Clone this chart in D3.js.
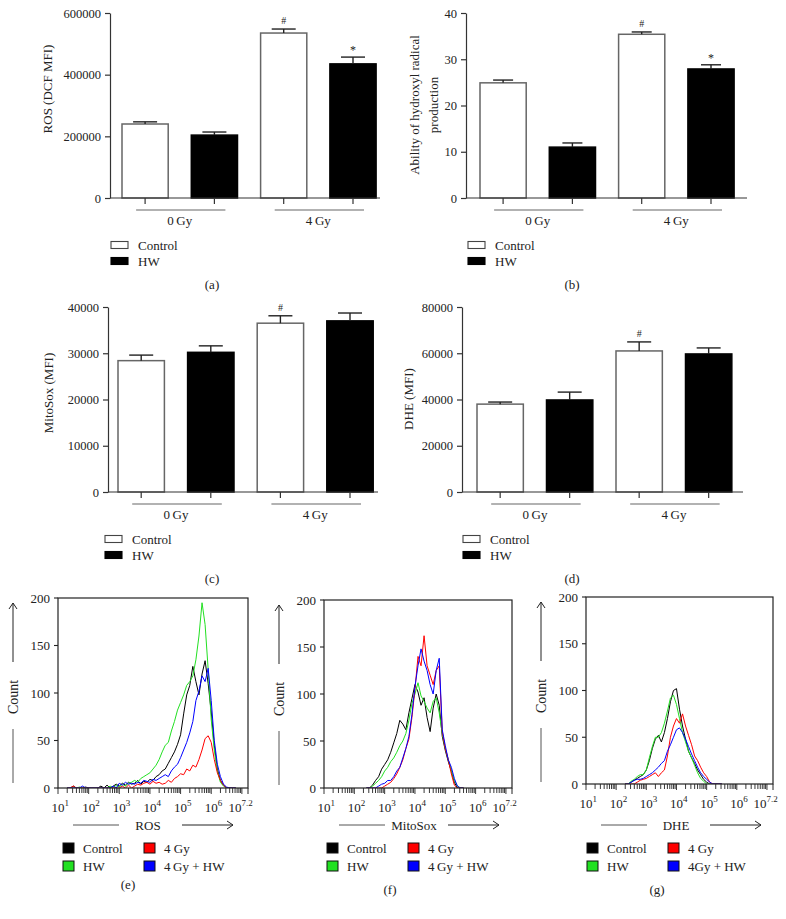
<!DOCTYPE html>
<html><head><meta charset="utf-8">
<script src="https://cdn.jsdelivr.net/npm/d3@7"></script>
<style>
body{margin:0;background:#fff}
svg{display:block}
text{font-family:"Liberation Serif","Times New Roman",serif;fill:#222}
</style>
</head><body>
<svg id="c" width="786" height="919"></svg>
<script>
// ---------------- DATA ----------------
const groups = ["0 Gy", "4 Gy"];
const barSeries = ["Control", "HW"];

const rosCtrl = [240000, 535000], rosCtrlErr = [7000, 13000], rosCtrlMark = ["", "#"];
const rosHW = [204000, 435000], rosHWErr = [10000, 22000], rosHWMark = ["", "*"];
const rosTicks = [0, 200000, 400000, 600000];

const ohCtrl = [24.9, 35.4], ohCtrlErr = [0.6, 0.5], ohCtrlMark = ["", "#"];
const ohHW = [11.0, 27.9], ohHWErr = [0.9, 0.9], ohHWMark = ["", "*"];
const ohTicks = [0, 10, 20, 30, 40];

const mitoCtrl = [28400, 36500], mitoCtrlErr = [1200, 1600], mitoCtrlMark = ["", "#"];
const mitoHW = [30200, 37000], mitoHWErr = [1400, 1700], mitoHWMark = ["", ""];
const mitoTicks = [0, 10000, 20000, 30000, 40000];

const dheCtrl = [38000, 61000], dheCtrlErr = [900, 3900], dheCtrlMark = ["", "#"];
const dheHW = [39800, 59700], dheHWErr = [3400, 2600], dheHWMark = ["", ""];
const dheTicks = [0, 20000, 40000, 60000, 80000];

// flow cytometry histograms (log10 bins, step 0.1)
const flowSeries = ["Control", "HW", "4 Gy", "4 Gy + HW"];
const flowExpTicks = [1, 2, 3, 4, 5, 6, 7.2];
const countTicks = [0, 50, 100, 150, 200];
const binStep = 0.1;

const rosFlowStart = 1.3;
const rosFlowControl = [0,0,2,0,0,0,1,0,0,0, 0,2,0,3,0,2,4,2,5,3, 6,4,5,8,4,7,6,9,8,12, 14,18,20,26,32,38,46,56,78,98, 108,128,112,98,120,134,110,80,45,20, 8,3,0,0,0,0];
const rosFlowHW      = [0,0,0,0,1,0,0,0,0,0, 0,0,0,0,2,0,3,1,4,2, 5,6,8,6,10,12,14,16,20,24, 30,38,45,48,60,70,82,90,98,108, 112,118,135,160,195,172,125,72,40,18, 6,2,0,0,0,0];
const rosFlow4Gy     = [0,0,2,0,0,0,0,0,0,0, 0,0,0,0,0,0,0,0,2,0, 3,0,2,4,3,5,6,4,7,5, 6,4,5,8,6,10,12,15,14,20, 18,24,22,30,40,52,55,48,30,16, 8,3,0,0,0,0];
const rosFlow4GyHW   = [0,0,0,0,0,2,0,0,0,0, 0,0,0,0,0,2,0,5,3,6, 4,5,4,6,5,8,7,6,9,8, 10,12,14,12,18,22,25,32,40,48, 58,70,92,102,118,112,126,92,50,25, 12,4,1,0,0,0];

const mitoFlowStart = 2.4;
const mitoFlowControl = [0,0,3,8,12,20,25,30,38,48, 58,72,68,62,80,95,110,102,88,96, 75,60,85,100,88,55,40,28,18,6, 0,0,0];
const mitoFlowHW      = [0,0,2,5,8,12,18,22,28,32, 38,45,50,58,72,90,100,112,98,92, 85,80,92,96,80,58,42,30,18,8, 2,0,0];
const mitoFlow4Gy     = [0,0,0,0,0,0,2,4,6,10, 15,22,30,42,52,75,105,140,130,162, 130,120,110,125,130,60,42,30,15,3, 0,0,0];
const mitoFlow4GyHW   = [0,0,0,0,2,4,5,8,8,12, 18,22,32,42,55,78,108,130,148,135, 125,110,100,125,138,62,45,30,22,10, 2,0,0];

const dheFlowStart = 2.3;
const dheFlowControl = [0,0,2,4,6,8,10,15,25,38, 48,52,45,55,70,88,100,102,80,62, 48,35,28,22,15,10,5,2,0,0, 0,0,0];
const dheFlowHW      = [0,0,3,5,8,10,10,15,28,40, 50,50,55,65,78,92,95,85,70,55, 45,35,28,20,12,6,3,0,0,0, 0,0,0];
const dheFlow4Gy     = [0,0,0,0,2,4,5,6,8,10, 12,8,12,15,30,50,62,70,65,75, 62,52,42,30,25,18,12,8,2,0, 0,0,0];
const dheFlow4GyHW   = [0,0,2,4,5,5,6,8,10,12, 15,18,22,25,35,42,50,58,60,55, 48,40,32,25,18,12,8,5,2,0, 0,0,0];

// ---------------- DRAWING ----------------
const svg = d3.select("#c");
const AX = "#333";

function barPanel(cfg) {
  const g = svg.append("g");
  const y = d3.scaleLinear().domain([0, cfg.max]).range([cfg.bottom, cfg.top]);
  const keys = [];
  groups.forEach((gr, i) => barSeries.forEach(s => keys.push(gr + "|" + s)));
  const x = d3.scaleBand().domain(keys)
    .range([cfg.barStart - cfg.step / 6, cfg.barStart - cfg.step / 6 + 4 * cfg.step])
    .paddingInner(1 / 3).paddingOuter(1 / 6);
  const rows = [];
  groups.forEach((gr, i) => {
    rows.push({k: gr + "|Control", s: "Control", v: cfg.ctrl[i], e: cfg.ctrlErr[i], m: cfg.ctrlMark[i]});
    rows.push({k: gr + "|HW", s: "HW", v: cfg.hw[i], e: cfg.hwErr[i], m: cfg.hwMark[i]});
  });

  // y axis
  const yAxis = d3.axisLeft(y).tickValues(cfg.ticks).tickSize(5).tickSizeOuter(0).tickPadding(4).tickFormat(d3.format("d"));
  const ya = g.append("g").attr("transform", `translate(${cfg.axisX},0)`).call(yAxis);
  ya.select(".domain").attr("stroke", AX).attr("stroke-width", 1.2);
  ya.selectAll(".tick line").attr("stroke", AX).attr("stroke-width", 1.2);
  ya.selectAll(".tick text").attr("font-size", 12.5).attr("font-family", "Liberation Serif").attr("fill", "#222");

  // bars
  g.selectAll("rect.bar").data(rows).join("rect")
    .attr("x", d => x(d.k)).attr("width", x.bandwidth())
    .attr("y", d => y(d.v)).attr("height", d => y(0) - y(d.v))
    .attr("fill", d => d.s === "HW" ? "#000" : "#fff")
    .attr("stroke", d => d.s === "HW" ? "#000" : "#666")
    .attr("stroke-width", 1.5);

  // error bars
  rows.forEach(d => {
    const cx = x(d.k) + x.bandwidth() / 2;
    g.append("line").attr("x1", cx).attr("x2", cx).attr("y1", y(d.v)).attr("y2", y(d.v + d.e))
      .attr("stroke", "#222").attr("stroke-width", 1.4);
    g.append("line").attr("x1", cx - cfg.capW / 2).attr("x2", cx + cfg.capW / 2)
      .attr("y1", y(d.v + d.e)).attr("y2", y(d.v + d.e)).attr("stroke", "#222").attr("stroke-width", 1.4);
    if (d.m) {
      g.append("text").attr("x", cx).attr("y", y(d.v + d.e) - (d.m === "*" ? 3 : 5))
        .attr("text-anchor", "middle").attr("font-size", d.m === "*" ? 12 : 10).text(d.m);
    }
  });

  // x axis line
  g.append("line").attr("x1", cfg.axisX).attr("x2", cfg.xEnd).attr("y1", cfg.bottom).attr("y2", cfg.bottom)
    .attr("stroke", AX).attr("stroke-width", 1.2);
  rows.forEach(d => {
    const cx = x(d.k) + x.bandwidth() / 2;
    g.append("line").attr("x1", cx).attr("x2", cx).attr("y1", cfg.bottom).attr("y2", cfg.bottom + 6)
      .attr("stroke", AX).attr("stroke-width", 1.2);
  });
  // group lines and labels
  groups.forEach(gr => {
    const c1 = x(gr + "|Control") + x.bandwidth() / 2;
    const c2 = x(gr + "|HW") + x.bandwidth() / 2;
    g.append("line").attr("x1", c1 - 9).attr("x2", c2 + 11).attr("y1", cfg.bottom + 12).attr("y2", cfg.bottom + 12)
      .attr("stroke", "#666").attr("stroke-width", 1.1);
    g.append("text").attr("x", (c1 + c2) / 2).attr("y", cfg.bottom + 27).attr("text-anchor", "middle")
      .attr("font-size", 13).text(gr.replace(" ", "\u2009"));
  });

  // y label
  const yl = g.append("text").attr("text-anchor", "middle").attr("font-size", 13)
    .attr("transform", `translate(${cfg.ylabX},${cfg.ylabY}) rotate(-90)`);
  cfg.ylab.forEach((t, i) => yl.append("tspan").attr("x", 0).attr("dy", i === 0 ? (-(cfg.ylab.length - 1) * 0.55 + 0.35) + "em" : "1.45em").text(t));

  // legend
  barSeries.forEach((s, i) => {
    const ly = cfg.bottom + 47 + i * 16;
    g.append("rect").attr("x", cfg.legX).attr("y", ly - 3.5).attr("width", 17).attr("height", 7)
      .attr("fill", s === "HW" ? "#000" : "#fff").attr("stroke", s === "HW" ? "#000" : "#444").attr("stroke-width", 1.1);
    g.append("text").attr("x", cfg.legX + 27).attr("y", ly + 4.5).attr("font-size", 13).text(s);
  });
  g.append("text").attr("x", cfg.labX).attr("y", cfg.bottom + 91).attr("text-anchor", "middle")
    .attr("font-size", 13).text(cfg.label);
}

barPanel({axisX: 110, top: 13, bottom: 198, max: 600000, ticks: rosTicks, barStart: 122, step: 69.3, xEnd: 380,
  ctrl: rosCtrl, ctrlErr: rosCtrlErr, ctrlMark: rosCtrlMark, hw: rosHW, hwErr: rosHWErr, hwMark: rosHWMark,
  capW: 24, ylab: ["ROS (DCF MFI)"], ylabX: 47, ylabY: 89, legX: 111, labX: 212, label: "(a)"});
barPanel({axisX: 466, top: 13, bottom: 198, max: 40, ticks: ohTicks, barStart: 480, step: 69.3, xEnd: 747,
  ctrl: ohCtrl, ctrlErr: ohCtrlErr, ctrlMark: ohCtrlMark, hw: ohHW, hwErr: ohHWErr, hwMark: ohHWMark,
  capW: 20, ylab: ["Ability of hydroxyl radical", "production"], ylabX: 422, ylabY: 105, legX: 468, labX: 572, label: "(b)"});
barPanel({axisX: 108, top: 307, bottom: 492, max: 40000, ticks: mitoTicks, barStart: 118, step: 69.6, xEnd: 378,
  ctrl: mitoCtrl, ctrlErr: mitoCtrlErr, ctrlMark: mitoCtrlMark, hw: mitoHW, hwErr: mitoHWErr, hwMark: mitoHWMark,
  capW: 24, ylab: ["MitoSox (MFI)"], ylabX: 48, ylabY: 393, legX: 105, labX: 212, label: "(c)"});
barPanel({axisX: 462, top: 307, bottom: 492, max: 80000, ticks: dheTicks, barStart: 477, step: 69.5, xEnd: 743,
  ctrl: dheCtrl, ctrlErr: dheCtrlErr, ctrlMark: dheCtrlMark, hw: dheHW, hwErr: dheHWErr, hwMark: dheHWMark,
  capW: 24, ylab: ["DHE (MFI)"], ylabX: 408, ylabY: 399, legX: 463, labX: 572, label: "(d)"});

// ---------- flow panels ----------
const flowColors = ["#000000", "#22e022", "#ff0000", "#0000ff"];
let clipId = 0;
function flowPanel(cfg) {
  const g = svg.append("g");
  const L = cfg.left, T = cfg.top, S = cfg.size, B = T + S;
  const x = d3.scaleLog().domain([10, Math.pow(10, 7.2)]).range([L, L + S]);
  const y = d3.scaleLinear().domain([0, 200]).range([B, T]);
  const id = "clip" + (clipId++);
  svg.append("clipPath").attr("id", id).append("rect").attr("x", L).attr("y", T - 1).attr("width", S).attr("height", S + 1);

  // traces
  const line = d3.line().x(d => x(d[0])).y(d => y(d[1])).curve(d3.curveLinear);
  const order = [0, 1, 2, 3];
  order.forEach(si => {
    const arr = cfg.series[si];
    const pts = arr.map((v, i) => [Math.pow(10, cfg.start + i * binStep), v]);
    g.append("path").attr("d", line(pts)).attr("fill", "none").attr("stroke", flowColors[si])
      .attr("stroke-width", 1).attr("clip-path", `url(#${id})`);
  });

  // frame
  g.append("rect").attr("x", L).attr("y", T).attr("width", S).attr("height", S)
    .attr("fill", "none").attr("stroke", "#222").attr("stroke-width", 1.2);

  // y ticks
  countTicks.forEach(t => {
    g.append("line").attr("x1", L - 4).attr("x2", L).attr("y1", y(t)).attr("y2", y(t)).attr("stroke", "#222").attr("stroke-width", 1.1);
    g.append("text").attr("x", L - 8).attr("y", y(t) + 4.5).attr("text-anchor", "end").attr("font-size", 13).text(t);
  });
  // x ticks (log minor)
  for (let n = 1; n <= 7; n++) {
    for (let k = 1; k <= 9; k++) {
      const v = k * Math.pow(10, n);
      if (Math.log10(v) > 7.2001) continue;
      g.append("line").attr("x1", x(v)).attr("x2", x(v)).attr("y1", B).attr("y2", B + (k === 1 ? 6 : 5))
        .attr("stroke", "#222").attr("stroke-width", 0.9);
    }
  }
  g.append("line").attr("x1", L + S).attr("x2", L + S).attr("y1", B).attr("y2", B + 6).attr("stroke", "#222");
  // x tick labels
  flowExpTicks.forEach(e => {
    const px = x(Math.pow(10, e)) - (e === 7.2 ? 13 : 0);
    const t = g.append("text").attr("x", px - 6.5).attr("y", B + 24).attr("font-size", 13);
    t.append("tspan").text("10");
    t.append("tspan").attr("dy", -6).attr("font-size", 9).text(String(e));
  });

  // x label with line and arrow
  const xy = 825;
  g.append("line").attr("x1", L + 15).attr("x2", L + 61).attr("y1", xy).attr("y2", xy).attr("stroke", "#555").attr("stroke-width", 1);
  g.append("text").attr("x", L + 90).attr("y", xy + 4.5).attr("text-anchor", "middle").attr("font-size", 13).text(cfg.xlab);
  g.append("line").attr("x1", L + 124).attr("x2", L + 175).attr("y1", xy).attr("y2", xy).attr("stroke", "#222").attr("stroke-width", 1);
  g.append("path").attr("d", `M${L + 169},${xy - 4}L${L + 175},${xy}L${L + 169},${xy + 4}`).attr("fill", "none").attr("stroke", "#222");

  // y label with arrow
  const yx = L - 45;
  g.append("line").attr("x1", yx).attr("x2", yx).attr("y1", T + 5).attr("y2", T + 64).attr("stroke", "#222").attr("stroke-width", 1);
  g.append("path").attr("d", `M${yx - 4},${T + 11}L${yx},${T + 5}L${yx + 4},${T + 11}`).attr("fill", "none").attr("stroke", "#222");
  g.append("text").attr("text-anchor", "middle").attr("font-size", 14)
    .attr("transform", `translate(${yx + 5},${T + 99}) rotate(-90)`).text("Count");
  g.append("line").attr("x1", yx).attr("x2", yx).attr("y1", T + 131).attr("y2", T + 185).attr("stroke", "#555").attr("stroke-width", 1);

  // legend
  const legNames = [flowSeries[0], flowSeries[2], flowSeries[1], cfg.lastName];
  const legColors = [flowColors[0], flowColors[2], flowColors[1], flowColors[3]];
  legNames.forEach((nm, i) => {
    const col = i % 2, row = Math.floor(i / 2);
    const lx = L + cfg.legOff + col * 81, ly = 848 + row * 18;
    g.append("rect").attr("x", lx).attr("y", ly - 5).attr("width", 11).attr("height", 10)
      .attr("fill", legColors[i]).attr("stroke", "#111").attr("stroke-width", 1);
    g.append("text").attr("x", lx + 20).attr("y", ly + 4.5).attr("font-size", 13).text(nm);
  });
  g.append("text").attr("x", cfg.labX).attr("y", cfg.labY).attr("text-anchor", "middle").attr("font-size", 13).text(cfg.label);
}

flowPanel({left: 58, top: 598, size: 190, start: rosFlowStart,
  series: [rosFlowControl, rosFlowHW, rosFlow4Gy, rosFlow4GyHW], xlab: "ROS", lastName: "4\u2009Gy + HW",
  legOff: 5, labX: 128, labY: 889, label: "(e)"});
flowPanel({left: 324, top: 600, size: 188, start: mitoFlowStart,
  series: [mitoFlowControl, mitoFlowHW, mitoFlow4Gy, mitoFlow4GyHW], xlab: "MitoSox", lastName: "4\u2009Gy + HW",
  legOff: 3, labX: 390, labY: 894, label: "(f)"});
flowPanel({left: 586, top: 597, size: 187, start: dheFlowStart,
  series: [dheFlowControl, dheFlowHW, dheFlow4Gy, dheFlow4GyHW], xlab: "DHE", lastName: "4Gy + HW",
  legOff: 1, labX: 657, labY: 894, label: "(g)"});
</script>
</body></html>
